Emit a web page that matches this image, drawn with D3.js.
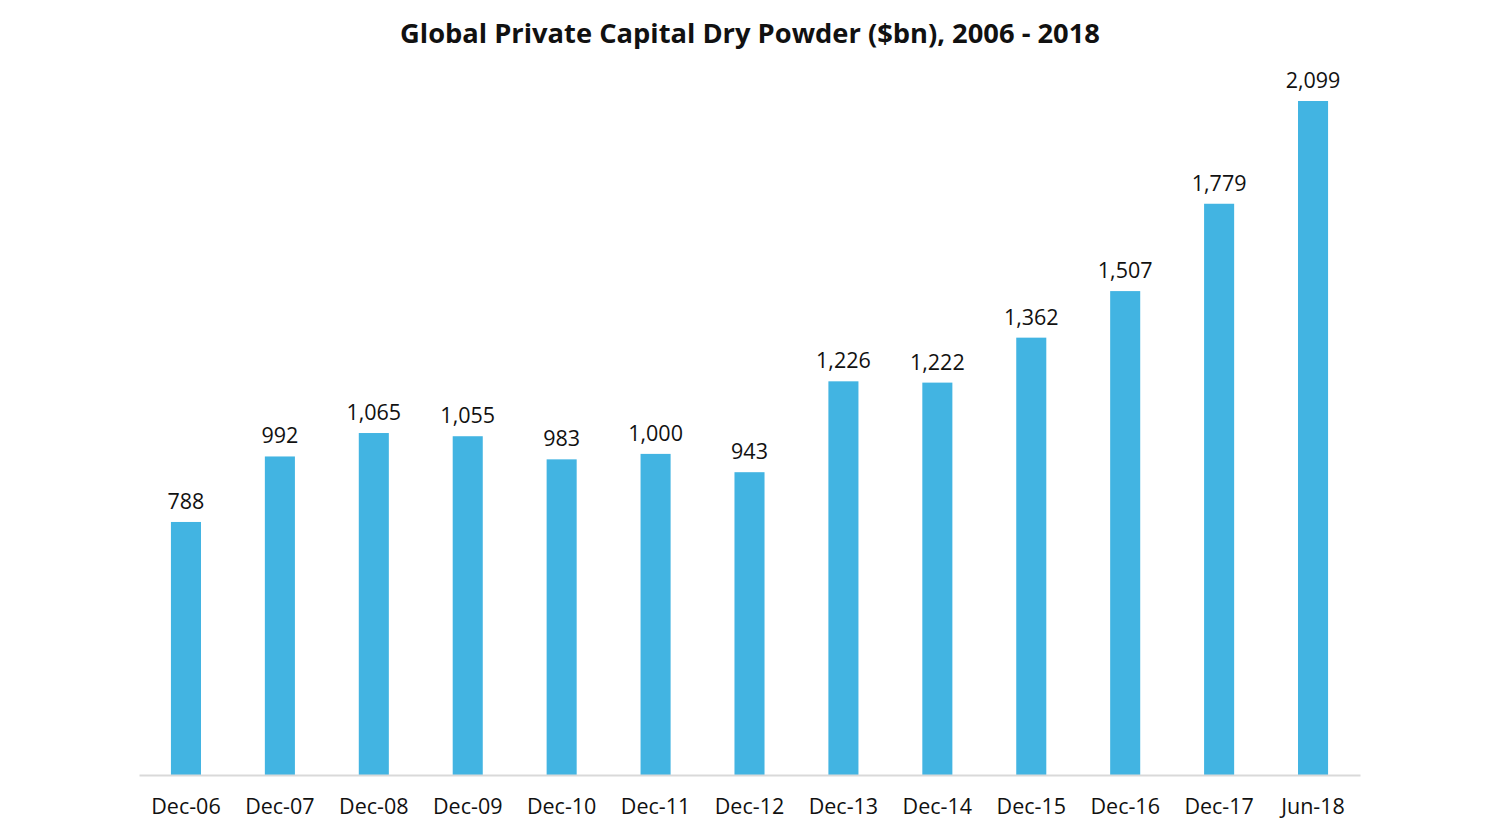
<!DOCTYPE html>
<html><head><meta charset="utf-8">
<script src="https://cdn.jsdelivr.net/npm/d3@7"></script>
<style>body{margin:0;background:#fff;}svg{display:block;font-family:"Open Sans",sans-serif;}</style>
</head><body>
<script>
const categories = ["Dec-06","Dec-07","Dec-08","Dec-09","Dec-10","Dec-11","Dec-12","Dec-13","Dec-14","Dec-15","Dec-16","Dec-17","Jun-18"];
const values = [788,992,1065,1055,983,1000,943,1226,1222,1362,1507,1779,2099];
const title = "Global Private Capital Dry Powder ($bn), 2006 - 2018";

const W=1500,H=833;
const svg=d3.select("body").append("svg").attr("width",W).attr("height",H);
const x=d3.scaleBand().domain(categories).range([139,1360]).paddingInner(0.68).paddingOuter(0.34);
const y=d3.scaleLinear().domain([0,2099]).range([775,101]);
const fmt=d3.format(",");

svg.append("text").attr("x",750).attr("y",43).attr("text-anchor","middle")
  .attr("font-size",27.3).attr("font-weight","bold").attr("fill","#111").text(title);

svg.selectAll("rect.bar").data(values).join("rect").attr("class","bar")
  .attr("x",(d,i)=>x(categories[i])).attr("width",x.bandwidth())
  .attr("y",d=>y(d)).attr("height",d=>y(0)-y(d)).attr("fill","#42b4e2");

svg.selectAll("text.lbl").data(values).join("text").attr("class","lbl")
  .attr("x",(d,i)=>x(categories[i])+x.bandwidth()/2).attr("y",d=>y(d)-13)
  .attr("text-anchor","middle").attr("font-size",21.5).attr("fill","#111").text(d=>fmt(d));

const ax=svg.append("g").attr("transform","translate(0,775)").call(d3.axisBottom(x).tickSize(0).tickPadding(24));
ax.select(".domain").attr("stroke","#d9d9d9").attr("stroke-width",2);
ax.selectAll("text").attr("font-size",21.5).attr("fill","#111").attr("font-family","Open Sans");
</script>
</body></html>
